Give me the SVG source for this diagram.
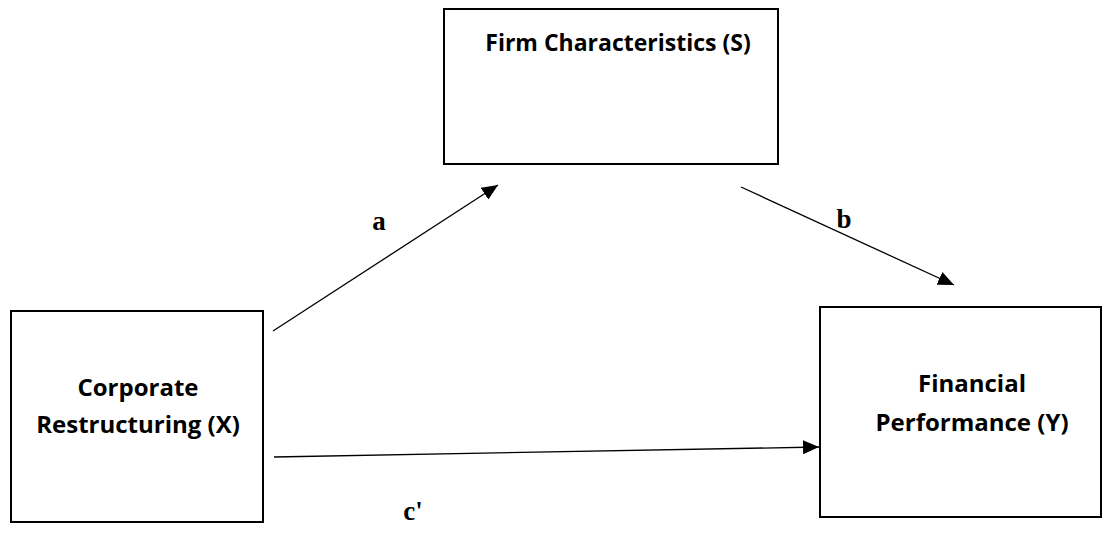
<svg xmlns="http://www.w3.org/2000/svg" width="1113" height="548" viewBox="0 0 1113 548">
<style>
.box{fill:#fff;stroke:#000;stroke-width:2}
.nt{font-family:"Open Sans","Liberation Sans",sans-serif;font-weight:700;font-size:24px;fill:#000;text-anchor:middle}
.nt2{font-size:23px}
.lbl{font-family:"Liberation Serif","Times New Roman",serif;font-weight:700;font-size:27px;fill:#000;text-anchor:middle}
.arr{stroke:#000;stroke-width:1.3;fill:none;marker-end:url(#ah)}
</style>
<defs>
<marker id="ah" viewBox="0 0 16 14" refX="16" refY="7" markerWidth="16" markerHeight="14" markerUnits="userSpaceOnUse" orient="auto">
<path d="M0,0 L16,7 L0,14 Z" fill="#000"/>
</marker>
</defs>
<g id="node-S">
<rect class="box" x="444" y="9" width="334" height="155"/>
<text class="nt nt2" x="618" y="51">Firm Characteristics (S)</text>
</g>
<g id="node-X">
<rect class="box" x="11" y="311" width="252" height="211"/>
<text class="nt" x="138" y="396">Corporate</text>
<text class="nt" x="138" y="433">Restructuring (X)</text>
</g>
<g id="node-Y">
<rect class="box" x="820" y="307" width="281" height="210"/>
<text class="nt" x="972" y="392">Financial</text>
<text class="nt" x="972" y="431">Performance (Y)</text>
</g>
<g id="connectors">
<line class="arr" x1="273" y1="331" x2="498" y2="185"/>
<line class="arr" x1="741" y1="187" x2="954" y2="285"/>
<line class="arr" x1="274" y1="457" x2="819" y2="447"/>
</g>
<g id="labels">
<text class="lbl" x="379" y="230">a</text>
<text class="lbl" x="844" y="228">b</text>
<text class="lbl" x="413" y="520">c'</text>
</g>
</svg>
